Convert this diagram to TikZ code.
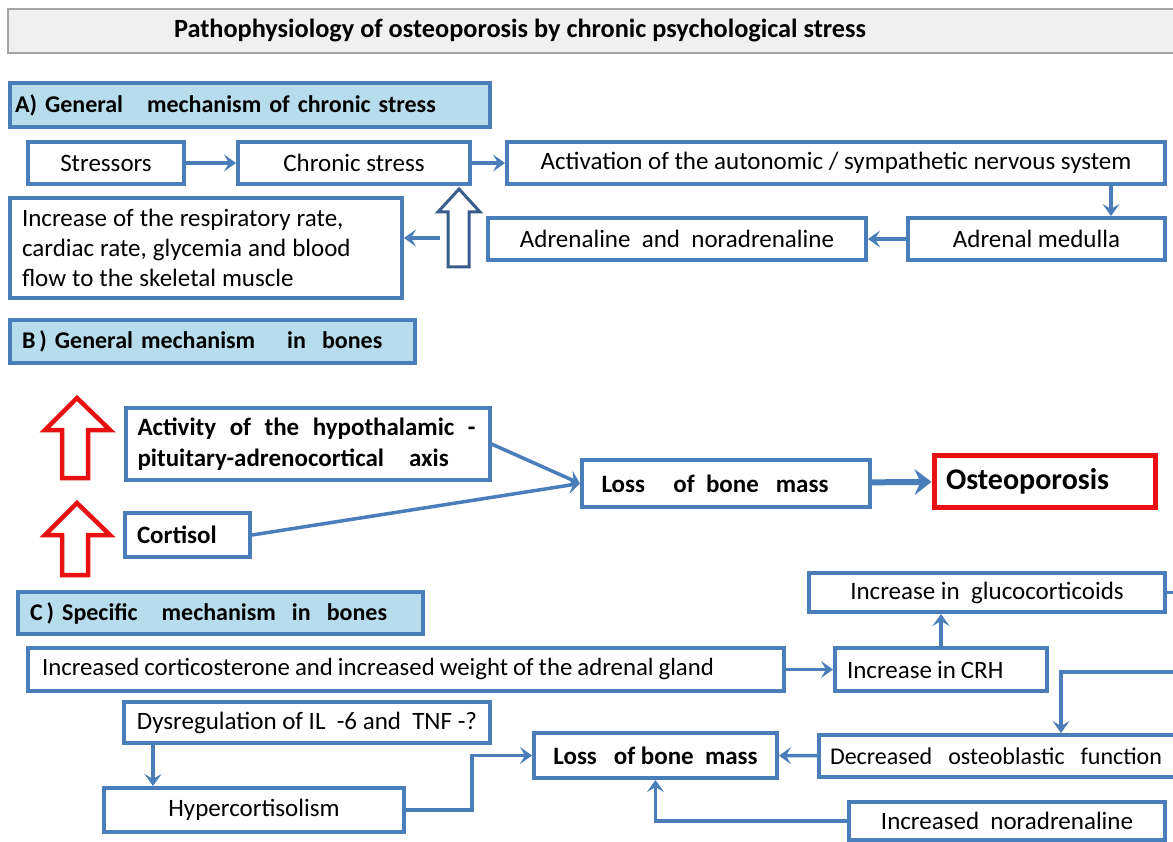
\documentclass[tikz,border=0pt]{standalone}
\usepackage{fontspec}
\setmainfont{Carlito}
\usetikzlibrary{arrows.meta,calc,positioning}
\definecolor{boxblue}{RGB}{74,126,187}
\definecolor{headblue}{RGB}{183,221,236}
\definecolor{hollowblue}{RGB}{56,93,138}
\definecolor{alarmred}{RGB}{232,16,16}
\definecolor{bannergray}{RGB}{240,240,240}
\definecolor{bannerline}{RGB}{165,165,165}

\begin{document}
\begin{tikzpicture}[x=1pt,y=-1pt,
  box/.style={draw=boxblue,line width=4pt,fill=white,inner sep=0pt,font=\fontsize{25}{30}\selectfont},
  bbox/.style={box,font=\fontsize{25}{31}\selectfont\bfseries},
  header/.style={draw=boxblue,line width=4pt,fill=headblue,inner ysep=0pt,align=left,font=\fontsize{24}{30}\selectfont\bfseries},
  arr/.style={draw=boxblue,line width=3.5pt,-{Stealth[length=12pt,width=17pt,inset=5pt]}},
  bigarr/.style={draw=boxblue,line width=6pt,-{Stealth[length=17pt,width=26pt,inset=6pt]}},
  boxline/.style={draw=boxblue,line width=3.5pt},
  hollowup/.style={draw=hollowblue,line width=3pt,fill=white,line join=miter},
  redup/.style={draw=alarmred,line width=4.5pt,fill=white,line join=miter},
  banner/.style={draw=bannerline,line width=2.5pt,fill=bannergray}]
  \clip (0,0) rectangle (1173,842);
  \fill[white] (0,0) rectangle (1173,842);
  \draw[banner] (8,9) rectangle (1200,53);
  \node[font=\fontsize{26.3}{30}\selectfont\bfseries] (title) at (520,31) {Pathophysiology of osteoporosis by chronic psychological stress};

  \node[header,text width=470,inner xsep=5,minimum height=44] (heada) at (250,105) {A) General\ \ \ mechanism of chronic stress};
  \node[box,minimum width=156,minimum height=42] (stress) at (106,163) {Stressors};
  \node[box,minimum width=232,minimum height=42] (chronic) at (354,163) {Chronic stress};
  \node[box,minimum width=658,minimum height=42] (auto) at (836,163) {Activation of the autonomic / sympathetic nervous system};
  \node[box,minimum width=257,minimum height=42] (medulla) at (1036.5,239) {Adrenal medulla};
  \node[box,minimum width=378,minimum height=42] (adren) at (677,239) {Adrenaline\ \ and\ \ noradrenaline};
  \node[box,text width=368,inner xsep=12,align=left,minimum height=100] (resp) at (206,248) {\spaceskip=6pt\relax Increase of the respiratory rate,\\cardiac rate, glycemia and blood\\flow to the skeletal muscle};
  \draw[arr] (stress) -- (chronic);
  \draw[arr] (chronic) -- (auto);
  \coordinate (autodown) at ([xshift=-56pt]auto.south east);
  \draw[arr] (autodown) -- (autodown |- medulla.north);
  \draw[arr] (medulla) -- (adren);
  \draw[hollowup] (448,267) -- (448,212) -- (438,212) -- (459,189) -- (480,212) -- (469,212) -- (469,267) -- cycle;
  \coordinate (hollowside) at (440,238);
  \draw[arr] (hollowside) -- (hollowside -| resp.east);

  \node[header,text width=381,inner xsep=12,minimum height=43] (headb) at (212.5,341.5) {B\,)\ General mechanism\ \ \ \ in\ \ bones};
  \draw[redup] (62,478) -- (62,430) -- (45,430) -- (77,398) -- (110,430) -- (88,430) -- (88,478) -- cycle;
  \draw[redup] (62,575) -- (62,535) -- (45,535) -- (77,503) -- (110,535) -- (88,535) -- (88,575) -- cycle;
  \node[bbox,text width=340,inner xsep=12,align=left,minimum height=72] (hpa) at (307.5,444) {\makebox[338pt]{Activity\hfill of\hfill the\hfill hypothalamic\hfill -}\\pituitary-adrenocortical\ \ \ axis};
  \node[bbox,text width=101,inner xsep=12,align=left,minimum height=44] (cortisol) at (187.5,535) {Cortisol};
  \node[bbox,minimum width=288,minimum height=47] (lossb) at (726,483.5) {Loss\ \ \ \ \ of\ \ bone\ \ \ mass\hspace*{22pt}};
  \node[box,draw=alarmred,line width=5pt,text width=197,inner xsep=12,align=left,minimum height=52,font=\fontsize{30}{36}\selectfont\bfseries] (osteo) at (1044.5,481) {Osteoporosis};
  \draw[arr] (hpa.east) -- (lossb.west);
  \draw[arr] (cortisol.east) -- (lossb.west);
  \draw[bigarr] (lossb) -- (osteo);

  \node[header,text width=381,inner xsep=12,minimum height=42] (headc) at (220.5,613) {C\,)\ Specific\ \ \ mechanism\ \ in\ \ bones};
  \node[box,text width=728,inner xsep=14,align=left,minimum height=43,font=\fontsize{24.8}{30}\selectfont] (cortico) at (406,669.5) {\spaceskip=5pt\relax Increased corticosterone and increased weight of the adrenal gland};
  \node[box,text width=188,inner xsep=12,align=left,minimum height=43] (crh) at (941,669.5) {\spaceskip=5pt\relax Increase in CRH};
  \node[box,minimum width=356,minimum height=39] (gluco) at (987,592.5) {Increase in\ \ glucocorticoids};
  \node[box,text width=349,inner xsep=11,align=left,minimum height=42,font=\fontsize{24}{30}\selectfont] (osteob) at (1004.5,756) {Decreased\ \ osteoblastic\ \ function};
  \node[bbox,minimum width=243,minimum height=45] (lossc) at (655.5,755.5) {Loss\ \ \ of bone\ \ mass};
  \node[box,minimum width=366,minimum height=41] (dysreg) at (307,722.5) {Dysregulation of IL\ \ -6 and\ \ TNF -?};
  \node[box,minimum width=300,minimum height=44] (hyper) at (254,810) {Hypercortisolism};
  \node[box,minimum width=316,minimum height=38] (noradr) at (1007,821) {Increased\ \ noradrenaline};
  \draw[arr] (cortico) -- (crh);
  \draw[arr] (crh.north) -- (crh.north |- gluco.south);
  \coordinate (glucoout) at (1180,592.5);
  \draw[boxline] (gluco.east) -- (glucoout);
  \coordinate (crhback) at (1180,672);
  \coordinate (crhturn) at (1061,672);
  \draw[arr] (crhback) -- (crhturn) -- (crhturn |- osteob.north);
  \draw[arr] (osteob) -- (lossc);
  \coordinate (dysdown) at ([xshift=31pt]dysreg.south west);
  \draw[arr] (dysdown) -- (dysdown |- hyper.north);
  \draw[arr] (hyper.east) -- ++(66,0) |- (lossc.west);
  \draw[arr] (noradr.west) -| (lossc.south);
\end{tikzpicture}
\end{document}
